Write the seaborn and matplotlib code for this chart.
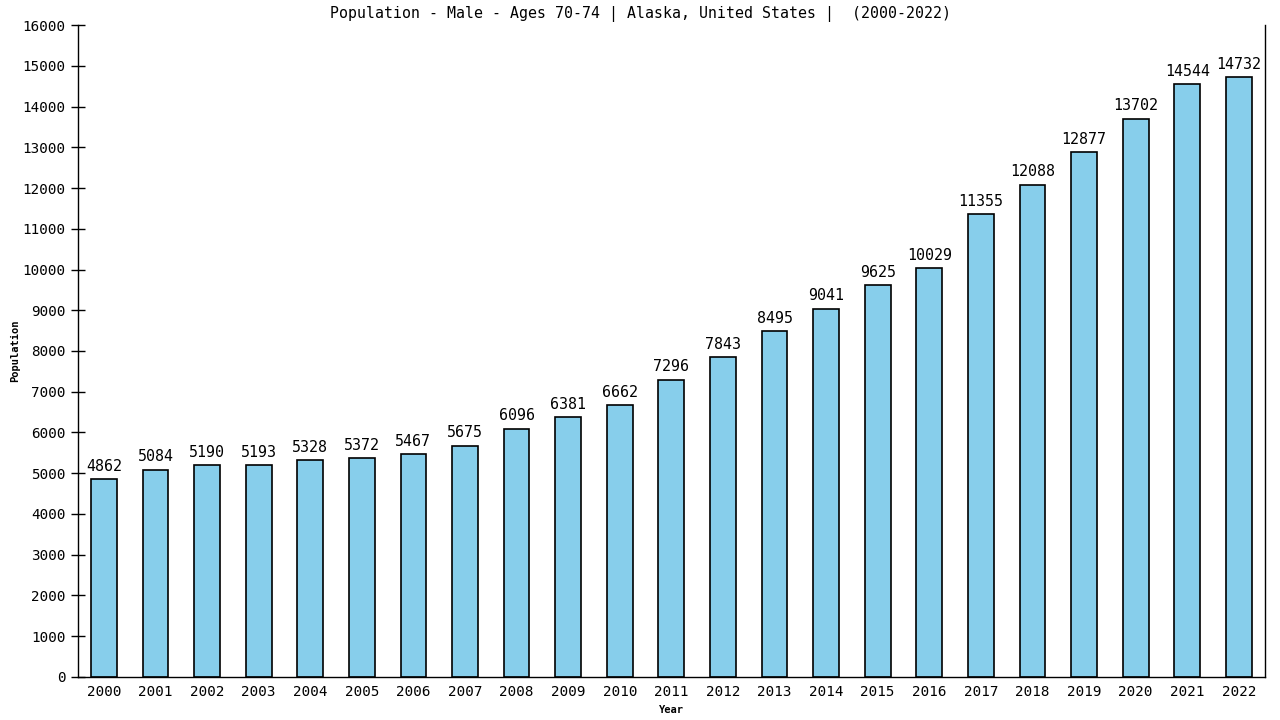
import pandas as pd
import matplotlib
matplotlib.use('Agg')
import matplotlib.pyplot as plt
import seaborn as sns

# data
years = [str(y) for y in range(2000, 2023)]
population = [4862, 5084, 5190, 5193, 5328, 5372, 5467, 5675, 6096, 6381, 6662, 7296,
              7843, 8495, 9041, 9625, 10029, 11355, 12088, 12877, 13702, 14544, 14732]
y_ticks = list(range(0, 16001, 1000))

df = pd.DataFrame({'Year': years, 'Population': population})

sns.set_style('white')
plt.rcParams['font.family'] = ['DejaVu Sans Mono']
plt.rcParams['text.color'] = 'black'
plt.rcParams['xtick.color'] = 'black'
plt.rcParams['ytick.color'] = 'black'
plt.rcParams['axes.labelcolor'] = 'black'

fig = plt.figure(figsize=(12.8, 7.2), dpi=100)
ax = fig.add_axes([0.061, 0.06, 0.927, 0.905])

sns.barplot(data=df, x='Year', y='Population', color='#87CEEB', edgecolor='black',
            linewidth=1.2, width=0.5, saturation=1, ax=ax)

for i, v in enumerate(population):
    ax.text(i, v + 130, str(v), ha='center', va='bottom', fontsize=10.8, color='black')

ax.set_xlim(-0.5, len(years) - 0.5)
ax.set_ylim(0, 16000)
ax.set_yticks(y_ticks)
ax.set_yticklabels([str(t) for t in y_ticks], fontsize=10.3)
ax.tick_params(axis='x', labelsize=10.3, length=0, pad=6)
ax.tick_params(axis='y', direction='inout', length=10, width=1, left=True, pad=4)

for side in ['left', 'bottom', 'right']:
    ax.spines[side].set_visible(True)
    ax.spines[side].set_color('black')
    ax.spines[side].set_linewidth(1)
ax.spines['top'].set_visible(False)

ax.set_xlabel('Year', fontsize=7.5, fontweight='bold', labelpad=4)
ax.set_ylabel('Population', fontsize=7.5, fontweight='bold', labelpad=2)
fig.text(0.5, 0.981, 'Population - Male - Ages 70-74 | Alaska, United States |  (2000-2022)',
         ha='center', va='center', fontsize=10.7, color='black')

fig.savefig('out.png', dpi=100)
